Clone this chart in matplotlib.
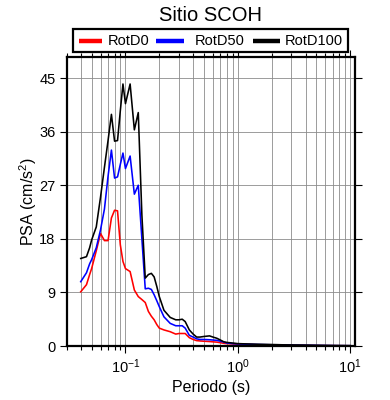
import matplotlib
matplotlib.use("Agg")
import matplotlib.pyplot as plt
from matplotlib.ticker import LogLocator, FixedLocator, NullFormatter
from matplotlib.lines import Line2D
from matplotlib.patches import Rectangle

plt.rcParams['font.family'] = ['Liberation Sans', 'DejaVu Sans']
plt.rcParams['mathtext.fontset'] = 'custom'
plt.rcParams['mathtext.rm'] = 'Liberation Sans'
plt.rcParams['mathtext.it'] = 'Liberation Sans'
plt.rcParams['mathtext.default'] = 'regular'

title = "Sitio SCOH"
series_names = ["RotD0", "RotD50", "RotD100"]
series_colors = ["#ff0000", "#0000ff", "#000000"]

periods = [0.04, 0.045, 0.048, 0.05, 0.055, 0.06, 0.065, 0.07, 0.075, 0.08,
           0.085, 0.09, 0.095, 0.1, 0.11, 0.12, 0.13, 0.14, 0.15, 0.16,
           0.17, 0.18, 0.19, 0.2, 0.22, 0.25, 0.28, 0.3, 0.32, 0.34,
           0.37, 0.4, 0.43, 0.46, 0.5, 0.56, 0.6, 0.65, 0.7, 0.75,
           0.8, 0.9, 1.0, 1.2, 1.5, 2.0, 2.5, 3.0, 4.0, 5.0,
           6.0, 7.5, 10.0]

rotd0 = [9.1, 10.3, 12.0, 13.0, 16.0, 18.9, 17.7, 17.7, 21.5, 22.8,
         22.7, 17.0, 14.2, 13.0, 12.5, 9.4, 8.3, 7.8, 7.3, 5.8,
         5.0, 4.4, 3.6, 3.0, 2.7, 2.4, 2.0, 2.1, 2.1, 2.1,
         1.4, 1.1, 0.9, 0.85, 0.8, 0.75, 0.7, 0.65, 0.55, 0.45,
         0.4, 0.35, 0.3, 0.25, 0.2, 0.15, 0.13, 0.11, 0.09, 0.07,
         0.06, 0.05, 0.04]

rotd50 = [10.8, 12.3, 13.8, 14.5, 16.5, 19.5, 23.0, 28.5, 32.9, 28.2,
          28.4, 30.5, 32.4, 29.8, 31.9, 25.5, 27.0, 18.0, 9.6, 9.7,
          9.5, 8.6, 7.6, 6.6, 4.9, 3.8, 3.4, 3.4, 3.4, 3.0,
          1.8, 1.5, 1.2, 1.1, 1.1, 1.05, 1.0, 0.95, 0.8, 0.65,
          0.5, 0.4, 0.35, 0.3, 0.25, 0.2, 0.17, 0.15, 0.12, 0.1,
          0.08, 0.06, 0.05]

rotd100 = [14.7, 15.0, 16.5, 17.8, 20.0, 25.0, 30.0, 34.5, 38.9, 34.4,
           34.5, 39.5, 44.0, 40.7, 44.0, 36.3, 39.2, 22.0, 11.4, 12.0,
           12.2, 11.6, 10.0, 8.3, 6.0, 4.8, 4.4, 4.4, 4.5, 4.1,
           2.7, 2.0, 1.5, 1.5, 1.6, 1.7, 1.5, 1.3, 1.0, 0.7,
           0.6, 0.5, 0.4, 0.35, 0.3, 0.25, 0.2, 0.18, 0.15, 0.12,
           0.1, 0.08, 0.06]

yticks = [0, 9, 18, 27, 36, 45]
xlabel = "Periodo (s)"
ylabel = "PSA (cm/s$^2$)"

W, H = 390, 400
fig = plt.figure(figsize=(W / 100, H / 100), dpi=100)
ax = fig.add_axes([0.171, 0.135, 0.739, 0.722])

for vals, name, col in zip([rotd0, rotd50, rotd100], series_names, series_colors):
    ax.plot(periods, vals, color=col, lw=1.15, label=name, zorder=3)

ax.set_xscale('log')
ax.set_xlim(0.03, 11)
ax.set_ylim(0, 48.5)
ax.yaxis.set_major_locator(FixedLocator(yticks))
ax.xaxis.set_major_locator(LogLocator(base=10, numticks=10))
ax.xaxis.set_minor_locator(LogLocator(base=10, subs=range(2, 10), numticks=20))
ax.xaxis.set_minor_formatter(NullFormatter())

ax.grid(True, which='major', axis='both', color='#8c8c8c', lw=0.6, zorder=1)
ax.grid(True, which='minor', axis='x', color='#8c8c8c', lw=0.6, zorder=1)

for sp in ax.spines.values():
    sp.set_linewidth(1.6)
    sp.set_zorder(4)

ax.tick_params(which='major', direction='out', length=5, width=0.8,
               labelsize=10.5, top=True, right=True, pad=3)
ax.tick_params(which='minor', direction='out', length=3, width=0.8,
               top=True, right=False)

ax.set_xlabel(xlabel, fontsize=11.5, labelpad=3)
ax.set_ylabel(ylabel, fontsize=11.5, labelpad=0.5)

fig.text(0.541, 0.962, title, ha='center', va='center', fontsize=14.5)

# legend box drawn in figure pixel coordinates
def fx(px):
    return px / W

def fy(py):
    return 1 - py / H

fig.patches.append(Rectangle((fx(73.3), fy(51.7)), fx(348.3) - fx(73.3),
                             fy(29.3) - fy(51.7), transform=fig.transFigure,
                             fill=True, facecolor='white', edgecolor='black',
                             lw=1.6, zorder=5))
leg_lines = [(79.3, 101.7), (156.0, 184.0), (252.7, 280.0)]
leg_text_x = [107.7, 195.0, 285.0]
ly = fy(40.7)
for (a, b), tx, name, col in zip(leg_lines, leg_text_x, series_names, series_colors):
    fig.add_artist(Line2D([fx(a), fx(b)], [ly, ly], color=col, lw=3.2,
                          transform=fig.transFigure, zorder=6,
                          solid_capstyle='butt'))
    fig.text(fx(tx), ly, name, ha='left', va='center', fontsize=10.5, zorder=6)

fig.savefig("out.png", dpi=100)
